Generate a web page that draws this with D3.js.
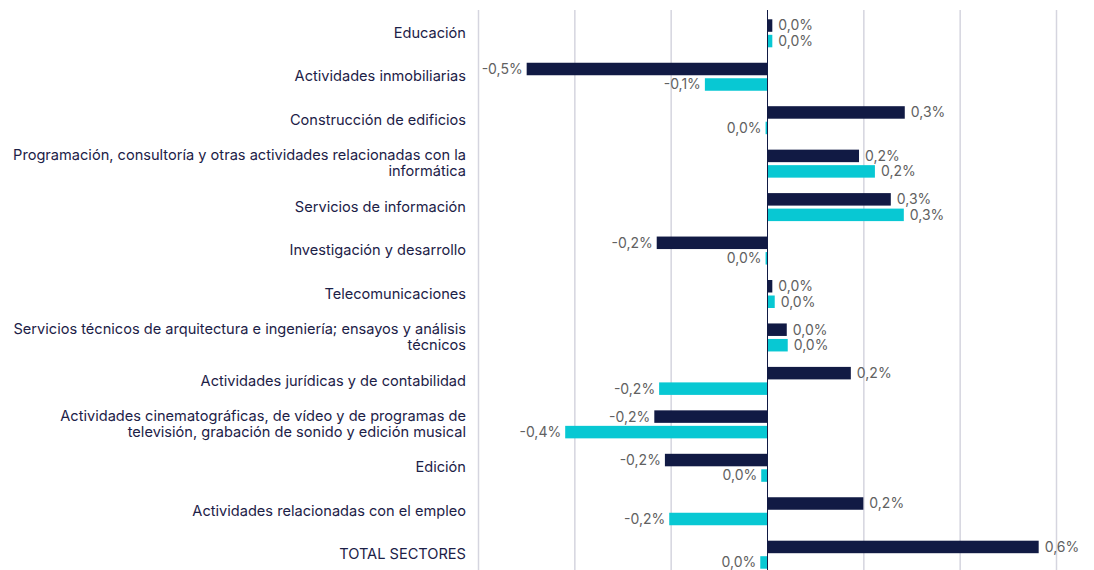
<!DOCTYPE html>
<html lang="es">
<head>
    <meta charset="UTF-8">
    <title>Sectores</title>
    <script type="text/javascript" src="https://cdnjs.cloudflare.com/ajax/libs/d3/7.8.5/d3.min.js"></script>
    <style>
        body { margin: 0; background: #fff; }
        text { font-family: Inter, "Open Sans", sans-serif; }
        .cat { fill: #1c2147; font-size: 14.6px; }
        .val { fill: #616161; font-size: 14px; }
    </style>
</head>
<body>
<svg id="chart" width="1094" height="570"></svg>

<script type="text/javascript">
    // Categorías (las de varias líneas van separadas por "|")
    const categories = [
        "Educación",
        "Actividades inmobiliarias",
        "Construcción de edificios",
        "Programación, consultoría y otras actividades relacionadas con la|informática",
        "Servicios de información",
        "Investigación y desarrollo",
        "Telecomunicaciones",
        "Servicios técnicos de arquitectura e ingeniería; ensayos y análisis|técnicos",
        "Actividades jurídicas y de contabilidad",
        "Actividades cinematográficas, de vídeo y de programas de|televisión, grabación de sonido y edición musical",
        "Edición",
        "Actividades relacionadas con el empleo",
        "TOTAL SECTORES"
    ];
    // Serie oscura (primera barra de cada grupo), en %
    const serieA = [0.01, -0.50, 0.285, 0.19, 0.256, -0.23, 0.01, 0.04, 0.173, -0.235, -0.213, 0.199, 0.563];
    // Serie cian (segunda barra), en %
    const serieB = [0.01, -0.13, -0.004, 0.223, 0.283, -0.004, 0.015, 0.042, -0.225, -0.42, -0.013, -0.204, -0.015];
    const gridTicks = [-0.6, -0.4, -0.2, 0.2, 0.4, 0.6];

    const colors = ["#111a44", "#08c8d3"];
    const svg = d3.select("#chart");

    const x = d3.scaleLinear()
        .domain([-0.6, 0.6])
        .range([478.5, 1056.5]);

    const step = 43.45;
    const y = d3.scaleBand()
        .domain(d3.range(categories.length))
        .range([33.3 - step / 2, 33.3 - step / 2 + step * categories.length])
        .padding(0);

    const barH = 12.5, gap = 3;

    // rejilla vertical
    svg.append("g")
        .selectAll("line")
        .data(gridTicks)
        .enter().append("line")
        .attr("x1", d => x(d)).attr("x2", d => x(d))
        .attr("y1", 10).attr("y2", 570)
        .attr("stroke", "#d5d5df")
        .attr("stroke-width", 1.5);

    const fmt = function(v) {
        let s = Math.abs(v).toFixed(1);
        if (v < 0 && s !== "0.0") s = "-" + s;
        return s.replace(".", ",") + "%";
    };

    const rows = categories.map((c, i) => ({ i: i, cat: c, vals: [serieA[i], serieB[i]] }));

    const groups = svg.append("g")
        .selectAll("g")
        .data(rows)
        .enter().append("g")
        .attr("transform", d => "translate(0," + (y(d.i) + y.bandwidth() / 2) + ")");

    // barras
    groups.selectAll("rect")
        .data(d => d.vals.map((v, k) => ({ v: v, k: k })))
        .enter().append("rect")
        .attr("x", d => Math.min(x(d.v), x(0)))
        .attr("width", d => Math.max(Math.abs(x(d.v) - x(0)), 1.5))
        .attr("y", d => d.k === 0 ? -gap / 2 - barH : gap / 2)
        .attr("height", barH)
        .attr("fill", d => colors[d.k]);

    // etiquetas de valor
    groups.selectAll("text.val")
        .data(d => d.vals.map((v, k) => ({ v: v, k: k })))
        .enter().append("text")
        .attr("class", "val")
        .attr("x", d => d.v >= 0 ? x(d.v) + 6 : x(d.v) - 4)
        .attr("y", d => d.k === 0 ? -gap / 2 - barH / 2 : gap / 2 + barH / 2)
        .attr("dy", "0.35em")
        .attr("text-anchor", d => d.v >= 0 ? "start" : "end")
        .text(d => fmt(d.v));

    // etiquetas de categoría
    groups.append("text")
        .attr("class", "cat")
        .attr("text-anchor", "end")
        .attr("x", 466)
        .each(function(d) {
            const lines = d.cat.split("|");
            const lh = 16;
            const t = d3.select(this);
            lines.forEach((l, j) => {
                t.append("tspan")
                    .attr("x", 466)
                    .attr("y", -0.5 + (j - (lines.length - 1) / 2) * lh)
                    .attr("dy", "0.35em")
                    .text(l);
            });
        });

    // eje cero
    svg.append("line")
        .attr("x1", x(0)).attr("x2", x(0))
        .attr("y1", 10).attr("y2", 570)
        .attr("stroke", "#111a44")
        .attr("stroke-width", 1);
</script>

</body>
</html>
